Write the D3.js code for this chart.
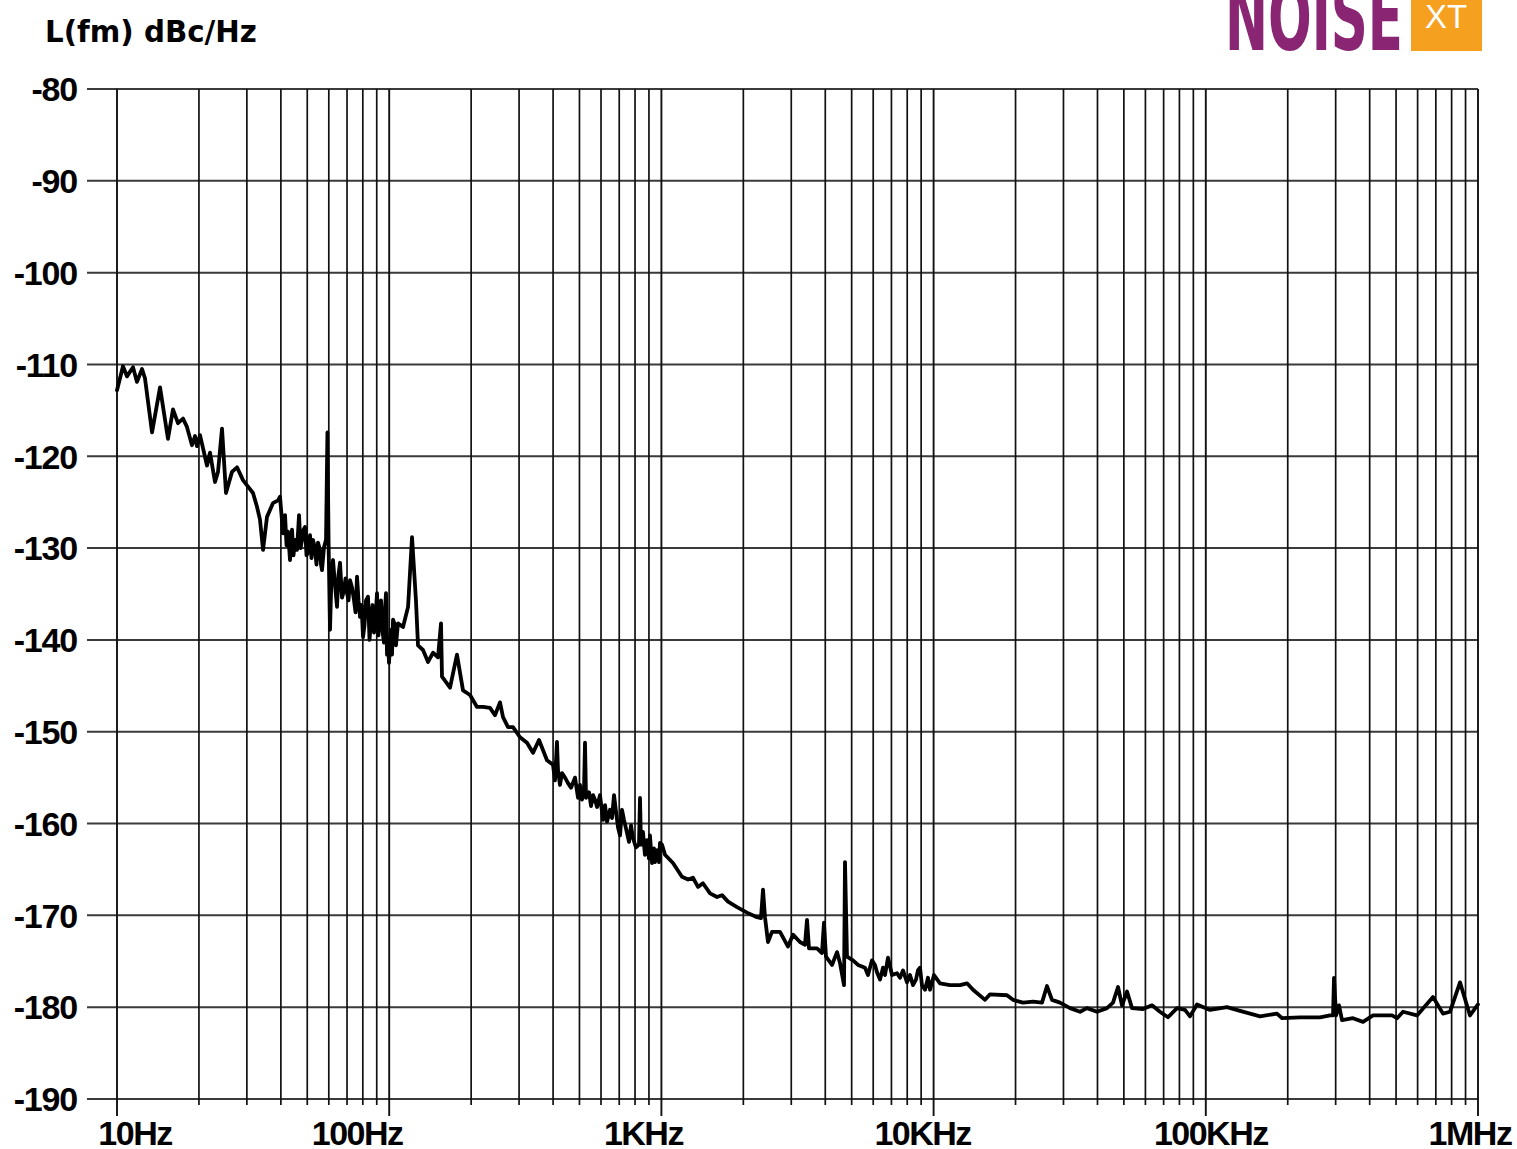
<!DOCTYPE html>
<html>
<head>
<meta charset="utf-8">
<script src="https://cdn.jsdelivr.net/npm/d3@7"></script>
<style>
  body { margin: 0; background: #fff; }
  svg { display: block; }
</style>
</head>
<body>
<div id="chart"></div>
<script>
// DATA
let freqs = [10.0, 10.52, 10.88, 11.45, 11.84, 12.36, 12.67, 13.45, 14.39, 15.39,
  16.06, 16.75, 17.48, 18.07, 18.86, 19.35, 19.67, 20.18, 21.41, 21.96,
  22.91, 23.5, 24.31, 25.14, 26.45, 27.6, 29.03, 30.29, 31.6, 32.68,
  33.52, 34.39, 35.57, 37.42, 39.04, 39.71, 40.73, 42.49, 43.21, 45.08,
  46.64, 47.83, 49.06, 50.32, 52.49, 54.76, 56.65, 57.61, 58.6, 59.3,
  59.9, 60.61, 62.17, 64.31, 65.97, 68.24, 69.99, 71.79, 74.26, 76.17,
  78.13, 80.14, 82.19, 83.6, 85.75, 87.95, 90.21, 92.53, 94.11, 95.7,
  97.33, 98.99, 99.83, 101.5, 103.3, 107.7, 112.4, 117.3, 121.3, 125.4,
  127.6, 133.1, 138.9, 144.9, 151.1, 155.0, 156.3, 167.3, 177.4, 186.7,
  198.1, 210.2, 221.1, 234.6, 244.7, 255.3, 261.9, 273.2, 285.0, 302.4,
  320.8, 337.5, 355.1, 379.9, 399.7, 413.4, 417.0, 431.4, 453.9, 481.5,
  493.9, 519.6, 524.0, 528.5, 570.2, 594.8, 610.1, 647.4, 669.7, 692.7,
  716.6, 747.5, 786.4, 827.4, 834.4, 841.5, 885.3, 923.6, 963.5, 988.2,
  1031, 1103, 1190, 1253, 1306, 1363, 1421, 1509, 1601, 1670,
  1757, 1896, 2063, 2245, 2322, 2362, 2402, 2464, 2548, 2727,
  2918, 3044, 3229, 3369, 3427, 3485, 3729, 3890, 3956, 4024,
  4234, 4417, 4531, 4687, 4726, 4807, 5057, 5276, 5597, 5939,
  6091, 6355, 6518, 6800, 7034, 7338, 7720, 7986, 8401, 8914,
  9300, 9538, 9866, 10556, 11488, 12505, 13268, 13960, 15450, 16118,
  18607, 19574, 21307, 23193, 25017, 26098, 27227, 29135, 31703, 34500,
  36602, 39838, 43358, 45616, 47589, 49226, 51353, 53574, 58780, 63440,
  67860, 72620, 78390, 83860, 87480, 92830, 103620, 119640, 133570, 158200,
  182600, 190500, 221900, 262800, 286000, 293400, 295800, 300900, 308600, 316500,
  347400, 378000, 411500, 447700, 483200, 504100, 530300, 597000, 683400, 743600,
  789000, 858800, 934600, 1000000]

let levels = [-112.8, -110.2, -111.3, -110.3, -111.9, -110.5, -111.5, -117.4, -112.5, -118.1,
  -114.9, -116.4, -115.9, -116.8, -118.8, -117.8, -118.9, -117.7, -121.0, -119.6,
  -122.8, -121.7, -117.0, -124.0, -121.7, -121.2, -122.6, -123.3, -124.0, -125.5,
  -126.9, -130.2, -126.6, -125.1, -124.8, -124.4, -128.4, -128.2, -131.3, -129.1,
  -126.4, -129.1, -127.7, -130.5, -129.1, -129.4, -132.4, -129.9, -129.1, -117.4,
  -129.7, -138.9, -131.3, -136.4, -131.6, -134.6, -134.9, -133.5, -135.7, -133.1,
  -137.5, -139.7, -135.7, -135.3, -137.8, -139.2, -134.9, -137.3, -138.2, -140.3,
  -134.9, -140.0, -142.5, -138.9, -137.8, -138.2, -138.6, -136.4, -128.8, -135.7,
  -140.6, -141.1, -142.4, -141.4, -141.9, -138.2, -144.0, -145.2, -141.6, -145.5,
  -146.0, -147.3, -147.3, -147.4, -148.2, -146.8, -148.4, -149.5, -149.5, -150.6,
  -151.2, -152.3, -150.9, -153.1, -153.6, -151.1, -154.2, -154.5, -155.6, -155.0,
  -157.2, -156.3, -151.2, -157.2, -157.4, -156.9, -159.6, -158.5, -156.9, -160.4,
  -158.5, -161.0, -161.6, -162.3, -157.2, -162.3, -161.8, -164.3, -162.9, -162.1,
  -163.4, -164.3, -165.8, -166.1, -165.9, -166.9, -166.5, -167.6, -168.0, -167.8,
  -168.5, -169.1, -169.7, -170.2, -170.3, -167.2, -170.2, -172.9, -171.8, -171.8,
  -173.4, -172.1, -172.9, -173.2, -170.5, -173.6, -173.6, -174.1, -170.8, -174.5,
  -175.4, -174.0, -175.2, -177.6, -164.2, -174.5, -174.9, -175.4, -175.7, -174.9,
  -175.4, -177.0, -175.7, -174.6, -176.5, -176.3, -176.0, -177.3, -177.6, -175.7,
  -178.1, -176.8, -177.3, -177.4, -177.6, -177.6, -177.4, -178.1, -179.2, -178.6,
  -178.7, -179.2, -179.5, -179.4, -179.5, -177.7, -179.2, -179.5, -180.1, -180.5,
  -180.1, -180.5, -180.1, -179.5, -177.8, -179.8, -178.3, -180.1, -180.2, -179.8,
  -180.5, -181.1, -180.1, -180.3, -181.0, -179.7, -180.3, -180.0, -180.4, -181.0,
  -180.7, -181.2, -181.1, -181.1, -180.9, -180.9, -176.8, -180.9, -179.8, -181.4,
  -181.2, -181.6, -180.9, -180.9, -180.9, -181.2, -180.5, -180.9, -178.9, -180.7,
  -180.5, -177.3, -180.9, -179.7]

// extra readings inside the noisy, thick parts of the trace
let bandFreqs = [41.43, 41.96, 43.95, 44.51, 45.85, 47.23, 48.44, 49.68, 51.17, 51.83,
  53.38, 54.06, 55.7, 56.17, 61.39, 63.23, 65.13, 67.09, 69.1, 70.88,
  73.01, 75.2, 77.14, 79.12, 81.15, 84.67, 86.84, 89.07, 91.36, 93.31,
  94.91, 96.5, 98.16, 100.7, 102.4, 105.0, 105.9,
  406.5, 424.1, 442.5, 465.5, 502.2, 510.8, 542.2, 551.4, 560.9, 580.2,
  620.8, 631.2, 658.5, 681.2, 704.6, 728.8, 760.3, 773.3, 806.7, 855.4,
  870.0, 900.0, 907.7, 939.0, 947.0, 980.0, 1005,
  5741, 6195, 6630, 7525, 8190, 8614, 8761, 9063, 9700, 10034]

let bandLevels = [-126.4, -129.7, -128.0, -130.8, -130.2, -130.0, -128.0, -130.8, -128.6, -131.1,
  -130.0, -131.8, -130.2, -131.8, -132.9, -134.0, -132.9, -135.4, -133.3, -135.7,
  -134.3, -137.0, -135.7, -136.2, -138.4, -140.0, -136.2, -137.6, -139.5, -135.7,
  -139.5, -136.7, -141.6, -140.6, -141.6, -138.4, -140.6,
  -155.3, -155.8, -155.0, -156.1, -155.8, -157.4, -156.6, -158.1, -156.9, -158.2,
  -158.0, -159.8, -159.4, -158.7, -161.3, -159.6, -162.0, -160.2, -162.6, -160.9,
  -163.4, -163.8, -161.3, -162.7, -164.2, -164.2, -162.3,
  -176.5, -176.2, -176.5, -176.8, -176.5, -177.0, -176.0, -177.6, -178.1, -176.5]

let yTicks = [-80, -90, -100, -110, -120, -130, -140, -150, -160, -170, -180, -190]
let decades = [10, 100, 1000, 10000, 100000, 1000000]
let decadeLabels = ['10Hz', '100Hz', '1KHz', '10KHz', '100KHz', '1MHz']

let width = 1517, height = 1149
let margin = { top: 89, right: 39, bottom: 50, left: 117 }

let svg = d3.select('#chart')
  .append('svg')
  .attr('width', width)
  .attr('height', height)

// SCALES
let x = d3.scaleLog()
  .domain([10, 1000000])
  .range([margin.left, width - margin.right])

let y = d3.scaleLinear()
  .domain([-190, -80])
  .range([height - margin.bottom, margin.top])

// minor gridlines: 2..9 in every decade
let minors = []
decades.slice(0, -1).forEach(function (d) {
  for (let k = 2; k <= 9; k++) minors.push(d * k)
})

let grid = svg.append('g')

grid.selectAll('.hline')
  .data(yTicks)
  .enter().append('line')
    .attr('class', 'hline')
    .attr('x1', margin.left - 30)
    .attr('x2', x(1000000))
    .attr('y1', d => y(d))
    .attr('y2', d => y(d))
    .attr('stroke', '#3a3a3a')
    .attr('stroke-width', 2)

grid.selectAll('.vminor')
  .data(minors)
  .enter().append('line')
    .attr('class', 'vminor')
    .attr('x1', d => x(d))
    .attr('x2', d => x(d))
    .attr('y1', y(-80))
    .attr('y2', y(-190) + 6)
    .attr('stroke', '#111')
    .attr('stroke-width', 1.7)

grid.selectAll('.vmajor')
  .data(decades)
  .enter().append('line')
    .attr('class', 'vmajor')
    .attr('x1', d => x(d))
    .attr('x2', d => x(d))
    .attr('y1', y(-80))
    .attr('y2', y(-190) + 17)
    .attr('stroke', '#111')
    .attr('stroke-width', 1.9)

// AXIS LABELS
let labelFont = '"Liberation Sans", Arial, sans-serif'

svg.selectAll('.ylabel')
  .data(yTicks)
  .enter().append('text')
    .attr('class', 'ylabel')
    .attr('x', margin.left - 40)
    .attr('y', d => y(d))
    .attr('dy', '0.36em')
    .attr('text-anchor', 'end')
    .style('font-family', labelFont)
    .style('font-weight', 'bold')
    .style('font-size', '34px')
    .style('letter-spacing', '-1.2px')
    .text(d => d)

// labels sit a little off their ticks in the original
let labelShift = [18, -32, -18, -11, 5, -8]

svg.selectAll('.xlabel')
  .data(decades)
  .enter().append('text')
    .attr('class', 'xlabel')
    .attr('x', (d, i) => x(d) + labelShift[i])
    .attr('y', height - 4)
    .attr('text-anchor', 'middle')
    .style('font-family', labelFont)
    .style('font-weight', 'bold')
    .style('font-size', '34px')
    .style('letter-spacing', '-1.5px')
    .text((d, i) => decadeLabels[i])

svg.append('text')
  .attr('x', 45)
  .attr('y', 42)
  .style('font-family', '"DejaVu Sans", sans-serif')
  .style('font-weight', 'bold')
  .style('font-size', '29.3px')
  .text('L(fm) dBc/Hz')

// TRACE
let points = d3.zip(freqs.concat(bandFreqs), levels.concat(bandLevels))
  .sort((a, b) => a[0] - b[0])

let line = d3.line()
  .x(d => x(d[0]))
  .y(d => y(d[1]))

svg.append('path')
  .datum(points)
  .attr('d', line)
  .attr('fill', 'none')
  .attr('stroke', '#000')
  .attr('stroke-width', 3.8)
  .attr('stroke-linejoin', 'round')
  .attr('stroke-linecap', 'round')

// LOGO (cut off at the top of the page)
let logo = svg.append('g')

logo.append('text')
  .attr('x', 1225)
  .attr('y', 50)
  .attr('textLength', 178)
  .attr('lengthAdjust', 'spacingAndGlyphs')
  .style('font-family', '"Liberation Sans Narrow", "DejaVu Sans Condensed", sans-serif')
  .style('font-weight', 'bold')
  .style('font-size', '92px')
  .style('fill', '#8a2574')
  .text('NOISE')

logo.append('rect')
  .attr('x', 1411)
  .attr('y', 0)
  .attr('width', 71)
  .attr('height', 51)
  .attr('fill', '#f6a01f')

logo.append('text')
  .attr('x', 1446)
  .attr('y', 28)
  .attr('text-anchor', 'middle')
  .style('font-family', '"Liberation Sans", Arial, sans-serif')
  .style('font-size', '33px')
  .style('fill', '#fff')
  .text('XT')
</script>
</body>
</html>
